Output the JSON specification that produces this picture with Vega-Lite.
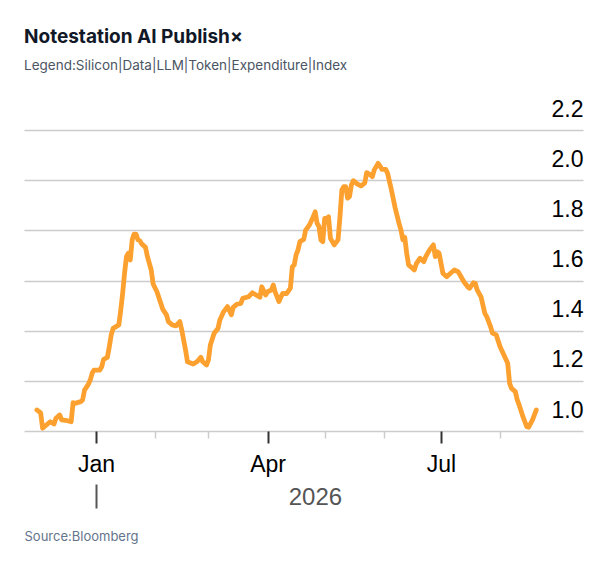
{
  "$schema": "https://vega.github.io/schema/vega-lite/v6.json",
  "width": 559,
  "height": 301,
  "autosize": {"type": "none"},
  "padding": {"left": 24, "top": 130, "right": 25, "bottom": 141},
  "background": "#ffffff",
  "title": {
    "text": "Notestation AI Publish×",
    "subtitle": "Legend:Silicon|Data|LLM|Token|Expenditure|Index",
    "anchor": "start",
    "font": "Inter",
    "fontSize": 19,
    "fontWeight": "bold",
    "color": "#111827",
    "subtitleFont": "Inter",
    "subtitleFontSize": 13.5,
    "subtitleColor": "#4b5563",
    "subtitlePadding": 12,
    "offset": 26
  },
  "data": {
    "values": [
      {"date": "2025-12-01", "value": 1.084},
      {"date": "2025-12-03", "value": 1.072},
      {"date": "2025-12-04", "value": 1.011},
      {"date": "2025-12-06", "value": 1.024},
      {"date": "2025-12-08", "value": 1.037},
      {"date": "2025-12-10", "value": 1.028},
      {"date": "2025-12-11", "value": 1.051},
      {"date": "2025-12-13", "value": 1.064},
      {"date": "2025-12-14", "value": 1.044},
      {"date": "2025-12-17", "value": 1.041},
      {"date": "2025-12-19", "value": 1.037},
      {"date": "2025-12-20", "value": 1.113},
      {"date": "2025-12-21", "value": 1.110},
      {"date": "2025-12-24", "value": 1.117},
      {"date": "2025-12-25", "value": 1.124},
      {"date": "2025-12-26", "value": 1.163},
      {"date": "2025-12-28", "value": 1.186},
      {"date": "2025-12-29", "value": 1.203},
      {"date": "2025-12-30", "value": 1.230},
      {"date": "2025-12-31", "value": 1.243},
      {"date": "2026-01-03", "value": 1.243},
      {"date": "2026-01-04", "value": 1.256},
      {"date": "2026-01-05", "value": 1.286},
      {"date": "2026-01-07", "value": 1.294},
      {"date": "2026-01-08", "value": 1.336},
      {"date": "2026-01-09", "value": 1.383},
      {"date": "2026-01-10", "value": 1.409},
      {"date": "2026-01-13", "value": 1.423},
      {"date": "2026-01-14", "value": 1.482},
      {"date": "2026-01-15", "value": 1.549},
      {"date": "2026-01-16", "value": 1.629},
      {"date": "2026-01-17", "value": 1.695},
      {"date": "2026-01-18", "value": 1.709},
      {"date": "2026-01-19", "value": 1.682},
      {"date": "2026-01-20", "value": 1.762},
      {"date": "2026-01-21", "value": 1.785},
      {"date": "2026-01-22", "value": 1.785},
      {"date": "2026-01-23", "value": 1.762},
      {"date": "2026-01-24", "value": 1.759},
      {"date": "2026-01-25", "value": 1.746},
      {"date": "2026-01-27", "value": 1.732},
      {"date": "2026-01-28", "value": 1.695},
      {"date": "2026-01-30", "value": 1.642},
      {"date": "2026-01-31", "value": 1.586},
      {"date": "2026-02-02", "value": 1.555},
      {"date": "2026-02-04", "value": 1.509},
      {"date": "2026-02-05", "value": 1.486},
      {"date": "2026-02-07", "value": 1.463},
      {"date": "2026-02-08", "value": 1.436},
      {"date": "2026-02-10", "value": 1.423},
      {"date": "2026-02-12", "value": 1.419},
      {"date": "2026-02-14", "value": 1.436},
      {"date": "2026-02-15", "value": 1.403},
      {"date": "2026-02-17", "value": 1.323},
      {"date": "2026-02-18", "value": 1.276},
      {"date": "2026-02-21", "value": 1.267},
      {"date": "2026-02-23", "value": 1.276},
      {"date": "2026-02-25", "value": 1.294},
      {"date": "2026-02-26", "value": 1.276},
      {"date": "2026-02-28", "value": 1.263},
      {"date": "2026-03-01", "value": 1.283},
      {"date": "2026-03-02", "value": 1.343},
      {"date": "2026-03-04", "value": 1.390},
      {"date": "2026-03-06", "value": 1.409},
      {"date": "2026-03-07", "value": 1.443},
      {"date": "2026-03-09", "value": 1.476},
      {"date": "2026-03-11", "value": 1.496},
      {"date": "2026-03-13", "value": 1.463},
      {"date": "2026-03-14", "value": 1.493},
      {"date": "2026-03-16", "value": 1.506},
      {"date": "2026-03-18", "value": 1.509},
      {"date": "2026-03-19", "value": 1.529},
      {"date": "2026-03-22", "value": 1.535},
      {"date": "2026-03-24", "value": 1.551},
      {"date": "2026-03-26", "value": 1.542},
      {"date": "2026-03-28", "value": 1.533},
      {"date": "2026-03-29", "value": 1.575},
      {"date": "2026-03-31", "value": 1.542},
      {"date": "2026-04-01", "value": 1.555},
      {"date": "2026-04-03", "value": 1.562},
      {"date": "2026-04-04", "value": 1.582},
      {"date": "2026-04-05", "value": 1.555},
      {"date": "2026-04-07", "value": 1.516},
      {"date": "2026-04-08", "value": 1.534},
      {"date": "2026-04-09", "value": 1.549},
      {"date": "2026-04-11", "value": 1.548},
      {"date": "2026-04-13", "value": 1.570},
      {"date": "2026-04-14", "value": 1.655},
      {"date": "2026-04-15", "value": 1.662},
      {"date": "2026-04-16", "value": 1.702},
      {"date": "2026-04-17", "value": 1.722},
      {"date": "2026-04-18", "value": 1.755},
      {"date": "2026-04-20", "value": 1.764},
      {"date": "2026-04-21", "value": 1.801},
      {"date": "2026-04-23", "value": 1.821},
      {"date": "2026-04-25", "value": 1.854},
      {"date": "2026-04-26", "value": 1.874},
      {"date": "2026-04-27", "value": 1.828},
      {"date": "2026-04-28", "value": 1.815},
      {"date": "2026-04-29", "value": 1.762},
      {"date": "2026-04-30", "value": 1.755},
      {"date": "2026-05-01", "value": 1.848},
      {"date": "2026-05-02", "value": 1.848},
      {"date": "2026-05-03", "value": 1.854},
      {"date": "2026-05-04", "value": 1.768},
      {"date": "2026-05-05", "value": 1.755},
      {"date": "2026-05-06", "value": 1.742},
      {"date": "2026-05-08", "value": 1.762},
      {"date": "2026-05-09", "value": 1.854},
      {"date": "2026-05-10", "value": 1.961},
      {"date": "2026-05-11", "value": 1.974},
      {"date": "2026-05-12", "value": 1.974},
      {"date": "2026-05-13", "value": 1.928},
      {"date": "2026-05-14", "value": 1.934},
      {"date": "2026-05-15", "value": 1.981},
      {"date": "2026-05-16", "value": 1.998},
      {"date": "2026-05-18", "value": 1.985},
      {"date": "2026-05-20", "value": 1.977},
      {"date": "2026-05-22", "value": 1.988},
      {"date": "2026-05-23", "value": 2.030},
      {"date": "2026-05-25", "value": 2.021},
      {"date": "2026-05-26", "value": 2.014},
      {"date": "2026-05-27", "value": 2.041},
      {"date": "2026-05-29", "value": 2.067},
      {"date": "2026-05-30", "value": 2.057},
      {"date": "2026-05-31", "value": 2.043},
      {"date": "2026-06-02", "value": 2.043},
      {"date": "2026-06-03", "value": 2.027},
      {"date": "2026-06-05", "value": 1.961},
      {"date": "2026-06-07", "value": 1.888},
      {"date": "2026-06-09", "value": 1.828},
      {"date": "2026-06-10", "value": 1.801},
      {"date": "2026-06-11", "value": 1.762},
      {"date": "2026-06-12", "value": 1.772},
      {"date": "2026-06-13", "value": 1.709},
      {"date": "2026-06-14", "value": 1.662},
      {"date": "2026-06-16", "value": 1.649},
      {"date": "2026-06-17", "value": 1.642},
      {"date": "2026-06-18", "value": 1.666},
      {"date": "2026-06-20", "value": 1.689},
      {"date": "2026-06-22", "value": 1.675},
      {"date": "2026-06-23", "value": 1.695},
      {"date": "2026-06-25", "value": 1.722},
      {"date": "2026-06-27", "value": 1.742},
      {"date": "2026-06-28", "value": 1.695},
      {"date": "2026-06-29", "value": 1.715},
      {"date": "2026-06-30", "value": 1.709},
      {"date": "2026-07-02", "value": 1.629},
      {"date": "2026-07-04", "value": 1.615},
      {"date": "2026-07-06", "value": 1.629},
      {"date": "2026-07-08", "value": 1.642},
      {"date": "2026-07-10", "value": 1.635},
      {"date": "2026-07-11", "value": 1.622},
      {"date": "2026-07-13", "value": 1.595},
      {"date": "2026-07-15", "value": 1.575},
      {"date": "2026-07-16", "value": 1.569},
      {"date": "2026-07-18", "value": 1.591},
      {"date": "2026-07-19", "value": 1.589},
      {"date": "2026-07-20", "value": 1.562},
      {"date": "2026-07-22", "value": 1.535},
      {"date": "2026-07-24", "value": 1.469},
      {"date": "2026-07-25", "value": 1.456},
      {"date": "2026-07-27", "value": 1.416},
      {"date": "2026-07-28", "value": 1.390},
      {"date": "2026-07-30", "value": 1.383},
      {"date": "2026-08-01", "value": 1.336},
      {"date": "2026-08-03", "value": 1.303},
      {"date": "2026-08-05", "value": 1.270},
      {"date": "2026-08-06", "value": 1.190},
      {"date": "2026-08-07", "value": 1.170},
      {"date": "2026-08-09", "value": 1.157},
      {"date": "2026-08-10", "value": 1.124},
      {"date": "2026-08-11", "value": 1.104},
      {"date": "2026-08-13", "value": 1.057},
      {"date": "2026-08-15", "value": 1.017},
      {"date": "2026-08-16", "value": 1.015},
      {"date": "2026-08-18", "value": 1.044},
      {"date": "2026-08-20", "value": 1.084}
    ]
  },
  "encoding": {
    "y": {
      "field": "value",
      "type": "quantitative",
      "scale": {"domain": [1.0, 2.2], "nice": false, "zero": false},
      "axis": {
        "orient": "right",
        "values": [1.0, 1.2, 1.4, 1.6, 1.8, 2.0, 2.2],
        "format": ".1f",
        "title": null,
        "grid": true,
        "gridColor": "#cccccc",
        "gridWidth": 1.5,
        "domain": false,
        "ticks": false,
        "tickSize": 0,
        "labelAlign": "right",
        "labelPadding": 0,
        "labelOffset": -21,
        "labelFont": "Liberation Sans",
        "labelFontSize": 23,
        "labelColor": "#000000",
        "labelBound": false,
        "labelOverlap": false
      }
    }
  },
  "layer": [
    {
      "mark": {"type": "line", "color": "#fca130", "strokeWidth": 4.8, "strokeJoin": "round", "strokeCap": "round"},
      "encoding": {
        "x": {
          "field": "date",
          "type": "temporal",
          "scale": {
            "type": "utc",
            "domain": [
              {"year": 2025, "month": 11, "date": 24, "hours": 6, "utc": true},
              {"year": 2026, "month": 9, "date": 13, "hours": 12, "utc": true}
            ]
          },
          "axis": {
            "orient": "bottom",
            "values": [
              {"year": 2026, "month": 1, "date": 1, "utc": true},
              {"year": 2026, "month": 4, "date": 1, "utc": true},
              {"year": 2026, "month": 7, "date": 1, "utc": true}
            ],
            "labelExpr": "utcFormat(datum.value, '%b')",
            "title": null,
            "grid": false,
            "domain": false,
            "tickSize": 12,
            "tickColor": "#333333",
            "tickWidth": 2,
            "labelPadding": 10,
            "labelFont": "Liberation Sans",
            "labelFontSize": 23,
            "labelColor": "#000000",
            "labelFlush": false,
            "labelOverlap": false
          }
        }
      }
    },
    {
      "mark": {"type": "line", "opacity": 0},
      "encoding": {
        "x": {
          "field": "date",
          "type": "temporal",
          "scale": {
            "type": "utc",
            "domain": [
              {"year": 2025, "month": 11, "date": 24, "hours": 6, "utc": true},
              {"year": 2026, "month": 9, "date": 13, "hours": 12, "utc": true}
            ]
          },
          "axis": {
            "orient": "bottom",
            "values": [
              {"year": 2026, "month": 2, "date": 1, "utc": true},
              {"year": 2026, "month": 3, "date": 1, "utc": true},
              {"year": 2026, "month": 5, "date": 1, "utc": true},
              {"year": 2026, "month": 6, "date": 1, "utc": true},
              {"year": 2026, "month": 8, "date": 1, "utc": true}
            ],
            "title": null,
            "labels": false,
            "grid": false,
            "domain": false,
            "tickSize": 7,
            "tickColor": "#cccccc",
            "tickWidth": 1.5
          }
        }
      }
    },
    {
      "mark": {"type": "line", "opacity": 0},
      "encoding": {
        "x": {
          "field": "date",
          "type": "temporal",
          "scale": {
            "type": "utc",
            "domain": [
              {"year": 2025, "month": 11, "date": 24, "hours": 6, "utc": true},
              {"year": 2026, "month": 9, "date": 13, "hours": 12, "utc": true}
            ]
          },
          "axis": {
            "orient": "bottom",
            "offset": 53,
            "values": [{"year": 2026, "month": 1, "date": 1, "utc": true}],
            "labelExpr": "utcFormat(datum.value, '%Y')",
            "grid": false,
            "domain": false,
            "tickSize": 24,
            "tickColor": "#555555",
            "tickWidth": 2,
            "labelPadding": -23,
            "labelOffset": 219,
            "labelAlign": "center",
            "labelFont": "Liberation Sans",
            "labelFontSize": 24,
            "labelColor": "#555555",
            "labelFlush": false,
            "labelOverlap": false,
            "labelBound": false,
            "title": "Source:Bloomberg",
            "titleX": 0,
            "titleY": 56,
            "titleAlign": "left",
            "titleBaseline": "alphabetic",
            "titleFont": "Inter",
            "titleFontSize": 13,
            "titleFontWeight": "normal",
            "titleColor": "#64748b"
          }
        }
      }
    }
  ],
  "resolve": {"axis": {"x": "independent"}},
  "config": {
    "view": {"stroke": null},
    "font": "Inter"
  }
}
